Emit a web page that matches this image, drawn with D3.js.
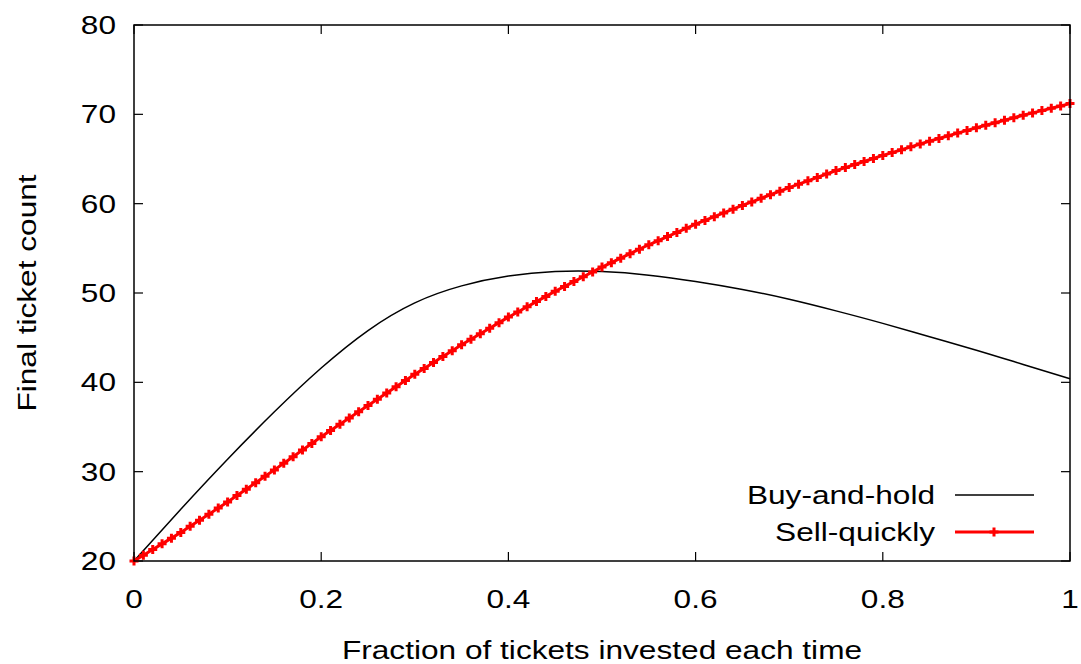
<!DOCTYPE html>
<html>
<head>
<meta charset="utf-8">
<script src="https://cdn.jsdelivr.net/npm/d3@7"></script>
<style>
  body { margin: 0; background: #fff; }
  text { font-family: "Liberation Sans", Arial, sans-serif; fill: #000; }
</style>
</head>
<body>
<div id="chart"></div>
<script>
const W = 1081, H = 664;
const PLOT = { LEFT: 134, RIGHT: 1070, TOP: 25, BOTTOM: 561 };
const FONT = 25.5, STRETCH = 1.24;

// values
const xTicks = [0, 0.2, 0.4, 0.6, 0.8, 1];
const xTickLabels = ["0", "0.2", "0.4", "0.6", "0.8", "1"];
const yTicks = [20, 30, 40, 50, 60, 70, 80];
const seriesNames = ["Buy-and-hold", "Sell-quickly"];

// buy-and-hold, every 0.05
const holdX = [0, 0.05, 0.1, 0.15, 0.2, 0.25, 0.3, 0.35, 0.4, 0.45, 0.5,
               0.55, 0.6, 0.65, 0.7, 0.75, 0.8, 0.85, 0.9, 0.95, 1];
const holdY = [20.0, 25.8, 31.4, 36.7, 41.6, 45.8, 48.9, 50.8, 51.9, 52.4, 52.4,
               52.0, 51.3, 50.4, 49.3, 48.0, 46.6, 45.1, 43.6, 42.0, 40.4];

// sell-quickly, every 0.01
const sellY = [20.00,
  20.64, 21.28, 21.92, 22.56, 23.20, 23.88, 24.56, 25.24, 25.92, 26.60,
  27.32, 28.04, 28.76, 29.48, 30.20, 30.94, 31.68, 32.42, 33.16, 33.90,
  34.60, 35.30, 36.00, 36.70, 37.40, 38.10, 38.80, 39.50, 40.20, 40.90,
  41.56, 42.22, 42.88, 43.54, 44.20, 44.82, 45.44, 46.06, 46.68, 47.30,
  47.88, 48.46, 49.04, 49.62, 50.20, 50.74, 51.28, 51.82, 52.36, 52.90,
  53.40, 53.90, 54.40, 54.90, 55.40, 55.86, 56.32, 56.78, 57.24, 57.70,
  58.12, 58.54, 58.96, 59.38, 59.80, 60.20, 60.60, 61.00, 61.40, 61.80,
  62.18, 62.56, 62.94, 63.32, 63.70, 64.04, 64.38, 64.72, 65.06, 65.40,
  65.72, 66.04, 66.36, 66.68, 67.00, 67.30, 67.60, 67.90, 68.20, 68.50,
  68.78, 69.06, 69.34, 69.62, 69.90, 70.16, 70.42, 70.68, 70.94, 71.20];
const sellX = sellY.map((d, i) => i / 100);

const svg = d3.select("#chart").append("svg")
  .attr("width", W).attr("height", H);

const x = d3.scaleLinear().domain([0, 1]).range([PLOT.LEFT, PLOT.RIGHT]);
const y = d3.scaleLinear().domain([20, 80]).range([PLOT.BOTTOM, PLOT.TOP]);

// wide-ish text like the gnuplot output
function label(sel, tx, ty, rot) {
  return sel.attr("transform", `translate(${tx},${ty})` + (rot ? ` rotate(${rot})` : "") + ` scale(${STRETCH},1)`)
            .style("font-size", FONT + "px");
}

// ticks, mirrored on all four sides, pointing inward
const tickLen = 9;
const ticks = svg.append("g").attr("stroke", "#000").attr("stroke-width", 1.2);
yTicks.forEach(v => {
  ticks.append("line").attr("x1", PLOT.LEFT).attr("x2", PLOT.LEFT + tickLen).attr("y1", y(v)).attr("y2", y(v));
  ticks.append("line").attr("x1", PLOT.RIGHT).attr("x2", PLOT.RIGHT - tickLen).attr("y1", y(v)).attr("y2", y(v));
});
xTicks.forEach(v => {
  ticks.append("line").attr("x1", x(v)).attr("x2", x(v)).attr("y1", PLOT.BOTTOM).attr("y2", PLOT.BOTTOM - tickLen);
  ticks.append("line").attr("x1", x(v)).attr("x2", x(v)).attr("y1", PLOT.TOP).attr("y2", PLOT.TOP + tickLen);
});

// tick labels
yTicks.forEach(v => {
  label(svg.append("text"), 116, y(v) + 9, 0)
    .attr("text-anchor", "end").text(v);
});
xTicks.forEach((v, i) => {
  label(svg.append("text"), x(v), 608, 0)
    .attr("text-anchor", "middle").text(xTickLabels[i]);
});

// axis titles
label(svg.append("text"), (PLOT.LEFT + PLOT.RIGHT) / 2, 659, 0)
  .attr("text-anchor", "middle").text("Fraction of tickets invested each time");
label(svg.append("text"), 36, (PLOT.TOP + PLOT.BOTTOM) / 2, -90)
  .attr("text-anchor", "middle").text("Final ticket count");

// buy-and-hold curve
const holdData = holdX.map((d, i) => [d, holdY[i]]);
svg.append("path")
  .datum(holdData)
  .attr("fill", "none").attr("stroke", "#000").attr("stroke-width", 1.5)
  .attr("d", d3.line().x(d => x(d[0])).y(d => y(d[1])).curve(d3.curveNatural));

// sell-quickly curve with + markers
const sellData = sellX.map((d, i) => [d, sellY[i]]);
svg.append("path")
  .datum(sellData)
  .attr("fill", "none").attr("stroke", "#ff0000").attr("stroke-width", 3)
  .attr("d", d3.line().x(d => x(d[0])).y(d => y(d[1])));

const plus = "M-4.5,0H4.5M0,-4.5V4.5";
svg.append("g").selectAll("path")
  .data(sellData)
  .enter().append("path")
  .attr("transform", d => `translate(${x(d[0])},${y(d[1])})`)
  .attr("d", plus)
  .attr("stroke", "#ff0000").attr("stroke-width", 3).attr("fill", "none");

// legend
const legY = [495, 532];
seriesNames.forEach((name, i) => {
  label(svg.append("text"), 935, legY[i] + 9, 0)
    .attr("text-anchor", "end").text(name);
});
svg.append("line").attr("x1", 955).attr("x2", 1034).attr("y1", legY[0]).attr("y2", legY[0])
  .attr("stroke", "#000").attr("stroke-width", 1.5);
svg.append("line").attr("x1", 955).attr("x2", 1034).attr("y1", legY[1]).attr("y2", legY[1])
  .attr("stroke", "#ff0000").attr("stroke-width", 3);
svg.append("path")
  .attr("transform", `translate(994,${legY[1]})`)
  .attr("d", plus).attr("stroke", "#ff0000").attr("stroke-width", 3).attr("fill", "none");

// frame
svg.append("rect")
  .attr("x", PLOT.LEFT).attr("y", PLOT.TOP)
  .attr("width", PLOT.RIGHT - PLOT.LEFT).attr("height", PLOT.BOTTOM - PLOT.TOP)
  .attr("fill", "none").attr("stroke", "#000").attr("stroke-width", 1.5);
</script>
</body>
</html>
